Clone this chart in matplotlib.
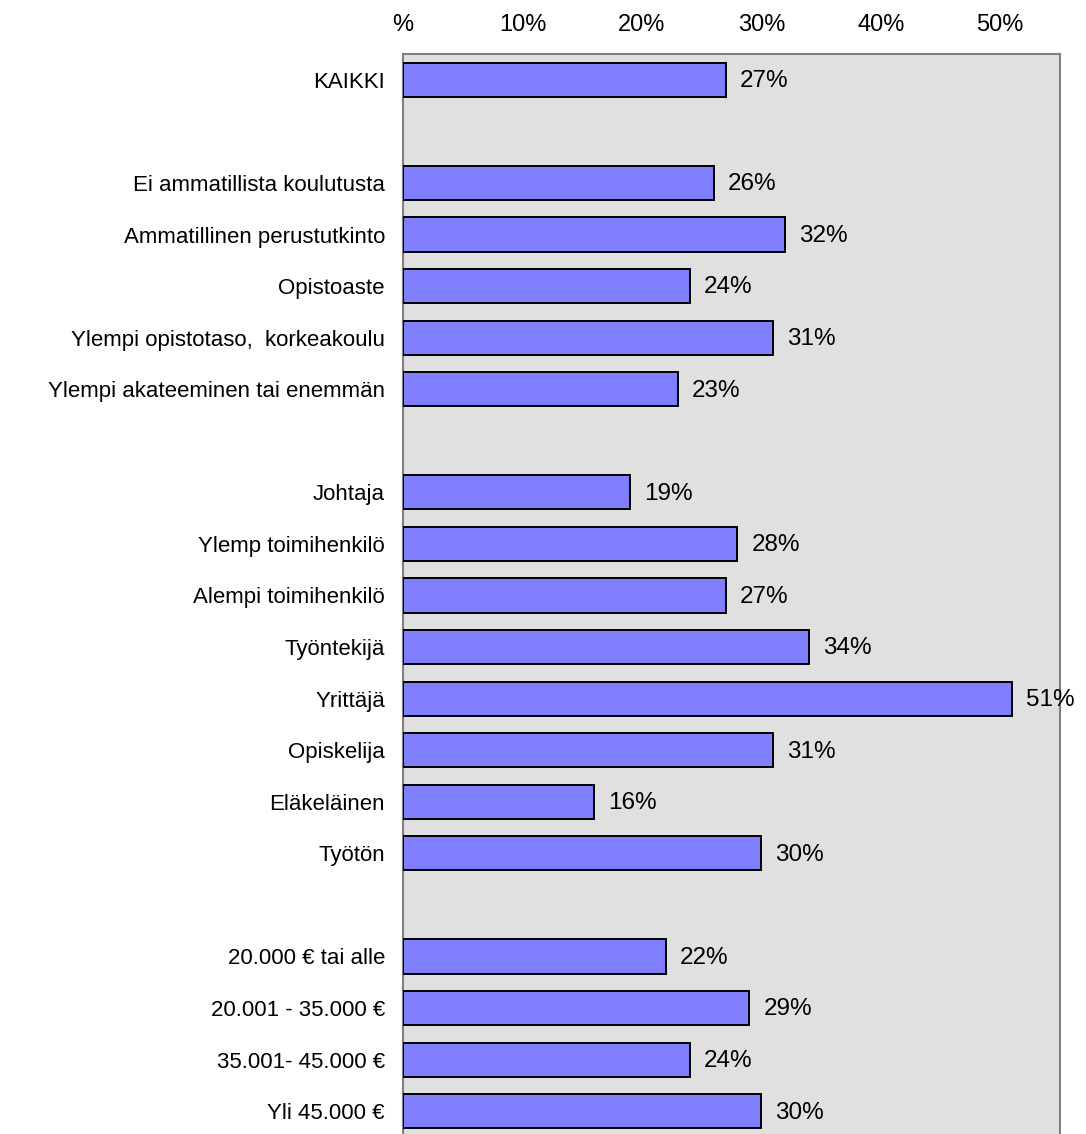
import matplotlib
matplotlib.use("Agg")
import matplotlib.pyplot as plt

plt.rcParams['font.family'] = ['Liberation Sans', 'DejaVu Sans']

categories = [
    "KAIKKI", "",
    "Ei ammatillista koulutusta", "Ammatillinen perustutkinto", "Opistoaste",
    "Ylempi opistotaso,  korkeakoulu", "Ylempi akateeminen tai enemmän", "",
    "Johtaja", "Ylemp toimihenkilö", "Alempi toimihenkilö", "Työntekijä",
    "Yrittäjä", "Opiskelija", "Eläkeläinen", "Työtön", "",
    "20.000 € tai alle", "20.001 - 35.000 €", "35.001- 45.000 €", "Yli 45.000 €",
]
values = [
    27, None,
    26, 32, 24, 31, 23, None,
    19, 28, 27, 34, 51, 31, 16, 30, None,
    22, 29, 24, 30,
]
tick_values = [0, 10, 20, 30, 40, 50]
tick_labels = ["%", "10%", "20%", "30%", "40%", "50%"]

W, H = 1086, 1134
fig = plt.figure(figsize=(W / 100, H / 100), dpi=100)
left, right, top, bottom = 403, 1060, 54, 1137
ax = fig.add_axes([left / W, (H - bottom) / H, (right - left) / W, (bottom - top) / H])
ax.set_facecolor('#e0e0e0')

ys = list(range(len(categories)))
for y, v in zip(ys, values):
    if v is None:
        continue
    ax.barh(y, v, height=0.66, color='#8080ff', edgecolor='black', linewidth=1.4, zorder=3)
    ax.annotate(f"{v}%", xy=(v, y), xytext=(10, -1), textcoords='offset points',
                va='center', ha='left', fontsize=17.5, zorder=4, annotation_clip=False)

ax.set_ylim(len(categories) - 0.5, -0.5)
ax.set_xlim(0, 55)
ax.set_yticks(ys)
ax.set_yticklabels(categories, fontsize=16)
ax.set_xticks(tick_values)
ax.set_xticklabels(tick_labels, fontsize=17)
ax.xaxis.tick_top()
ax.tick_params(axis='x', length=0, pad=13)
ax.tick_params(axis='y', length=0, pad=13)
for s in ['top', 'right', 'left']:
    ax.spines[s].set_color('#808080')
    ax.spines[s].set_linewidth(1.5)
ax.spines['bottom'].set_visible(False)

fig.savefig("out.png", dpi=100)
